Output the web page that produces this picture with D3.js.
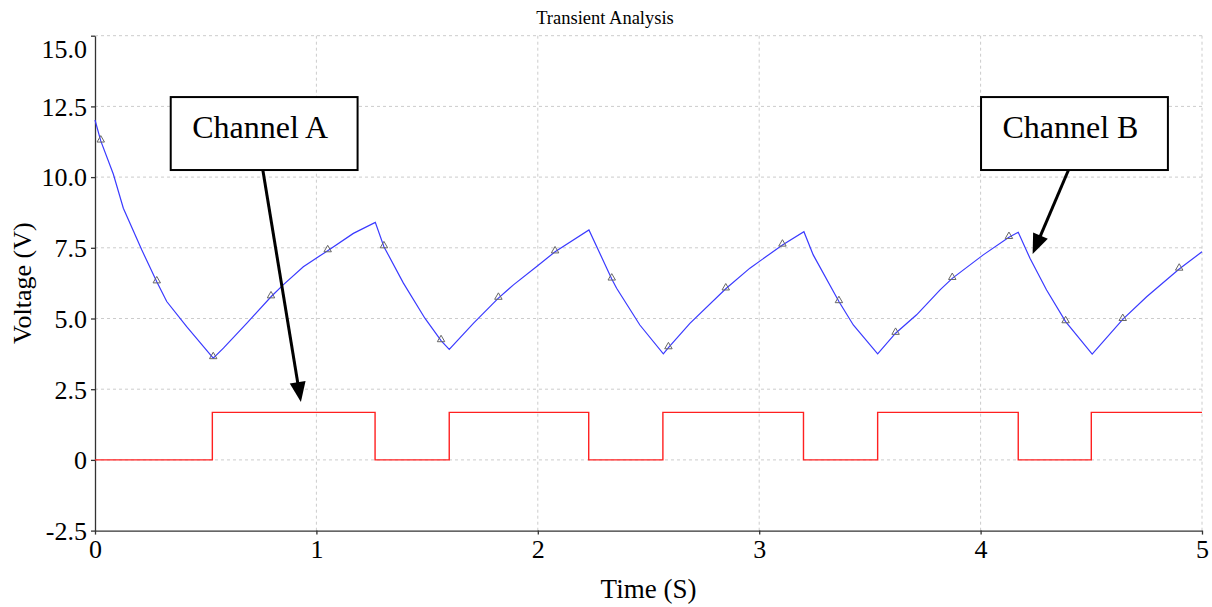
<!DOCTYPE html>
<html>
<head>
<meta charset="utf-8">
<script src="https://cdn.jsdelivr.net/npm/d3@7"></script>
<style>
  body { margin: 0; background: #fff; }
  svg { display: block; }
  text { font-family: "Liberation Serif", "Times New Roman", serif; fill: #000; }
  .grid line { stroke: #cccccc; stroke-dasharray: 3,3; }
  .axis path, .axis line { stroke: #333; stroke-width: 1.3; }
</style>
</head>
<body>
<svg id="canvas" width="1212" height="607"></svg>
<script>

const width = 1212;
const height = 607;
const margin = {top: 35.7, right: 10, bottom: 76.4, left: 95}; // px

// tick labels
const xTicks = [0, 1, 2, 3, 4, 5];
const yTicks = [-2.5, 0, 2.5, 5, 7.5, 10, 12.5, 15];

// Channel B (blue): polyline vertices
const blueT = [0, 0.026, 0.083, 0.128, 0.211, 0.279, 0.324, 0.414, 0.534, 0.580,
               0.685, 0.795, 0.850, 0.941, 1.051, 1.167, 1.266, 1.305, 1.393, 1.490,
               1.563, 1.600, 1.709, 1.822, 1.890, 1.995, 2.078, 2.231, 2.334, 2.356,
               2.461, 2.567, 2.590, 2.687, 2.849, 2.958, 3.105, 3.202, 3.244, 3.360,
               3.425, 3.535, 3.616, 3.711, 3.817, 3.872, 4.012, 4.128, 4.170, 4.223,
               4.298, 4.384, 4.504, 4.642, 4.750, 4.897, 5.0];
const blueV = [12.02, 11.28, 10.10, 8.90, 7.43, 6.30, 5.60, 4.71, 3.60, 3.95,
               4.83, 5.77, 6.19, 6.83, 7.40, 8.01, 8.40, 7.54, 6.25, 5.01,
               4.22, 3.91, 4.83, 5.72, 6.19, 6.84, 7.36, 8.13, 6.40, 6.07,
               4.77, 3.75, 3.97, 4.83, 6.05, 6.78, 7.60, 8.07, 7.25, 5.60,
               4.77, 3.75, 4.48, 5.13, 6.01, 6.42, 7.25, 7.87, 8.05, 7.13,
               6.01, 4.89, 3.74, 4.97, 5.77, 6.75, 7.36];

// sample markers (triangles) on Channel B
const markerT = [0.026, 0.279, 0.534, 0.795, 1.051, 1.305, 1.563, 1.822, 2.078, 2.334,
                 2.590, 2.849, 3.105, 3.360, 3.616, 3.872, 4.128, 4.384, 4.642, 4.897];
const markerV = [11.28, 6.30, 3.62, 5.77, 7.40, 7.54, 4.22, 5.72, 7.36, 6.40,
                 3.97, 6.05, 7.60, 5.60, 4.48, 6.42, 7.87, 4.89, 4.97, 6.75];

// Channel A (red): square wave, level holds until next time
const redT = [0, 0.53, 1.265, 1.60, 2.23, 2.565, 3.20, 3.535, 4.17, 4.50, 5.0];
const redV = [0, 1.68, 0, 1.68, 0, 1.68, 0, 1.68, 0, 1.68, 1.68];

// callouts, in chart units
const callouts = [
    {label: "Channel A", x0: 0.342, x1: 1.186, y0: 12.83, y1: 10.25,
     from: [0.758, 10.25], to: [0.93, 2.05]},
    {label: "Channel B", x0: 4.002, x1: 4.846, y0: 12.83, y1: 10.25,
     from: [4.397, 10.25], to: [4.235, 7.28]}
];

const svg = d3.select("#canvas");

const x = d3.scaleLinear()
    .domain([0, 5])
    .range([margin.left, width - margin.right]);

const y = d3.scaleLinear()
    .domain([-2.5, 15])
    .range([height - margin.bottom, margin.top]);

// grid
svg.append("g")
    .attr("class", "grid")
    .selectAll("line.v")
    .data(xTicks.filter(d => d > 0))
    .join("line")
    .attr("x1", d => x(d)).attr("x2", d => x(d))
    .attr("y1", y(15)).attr("y2", y(-2.5));

svg.select(".grid")
    .selectAll("line.h")
    .data(yTicks.filter(d => d > -2.5))
    .join("line")
    .attr("class", "h")
    .attr("x1", x(0)).attr("x2", x(5))
    .attr("y1", d => y(d)).attr("y2", d => y(d));

// axes
const yAxis = svg.append("g")
    .attr("class", "axis")
    .attr("transform", "translate(" + x(0) + ",0)")
    .call(d3.axisLeft(y)
          .tickValues(yTicks)
          .tickSize(4)
          .tickSizeOuter(0)
          .tickFormat(d => d === 0 ? "0" : d.toFixed(1)));

yAxis.selectAll("text")
    .style("font-size", "26px")
    .attr("x", -8)
    .attr("dy", d => d === 15 ? "0.82em" : "0.34em");

const xAxis = svg.append("g")
    .attr("class", "axis")
    .attr("transform", "translate(0," + y(-2.5) + ")")
    .call(d3.axisBottom(x)
          .tickValues(xTicks)
          .tickSize(4)
          .tickSizeOuter(0)
          .tickFormat(d3.format("d")));

xAxis.selectAll("text")
    .style("font-size", "26px")
    .attr("y", 8)
    .attr("dy", "0.75em");

svg.selectAll(".axis .domain").attr("stroke", "#333");

// series
const blueLine = d3.line()
    .x(i => x(blueT[i]))
    .y(i => y(blueV[i]));

svg.append("path")
    .attr("d", blueLine(d3.range(blueT.length)))
    .attr("fill", "none")
    .attr("stroke", "#3a3aff")
    .attr("stroke-width", 1.2);

const redLine = d3.line()
    .curve(d3.curveStepAfter)
    .x(i => x(redT[i]))
    .y(i => y(redV[i]));

svg.append("path")
    .attr("d", redLine(d3.range(redT.length)))
    .attr("fill", "none")
    .attr("stroke", "#ff2020")
    .attr("stroke-width", 1.4);

const tri = d3.symbol().type(d3.symbolTriangle).size(24);

svg.append("g")
    .selectAll("path")
    .data(d3.range(markerT.length))
    .join("path")
    .attr("transform", i => "translate(" + x(markerT[i]) + "," + (y(markerV[i]) - 1) + ")")
    .attr("d", tri)
    .attr("fill", "none")
    .attr("stroke", "#666")
    .attr("stroke-width", 1);

// title and axis labels
svg.append("text")
    .attr("x", 605)
    .attr("y", 24)
    .attr("text-anchor", "middle")
    .style("font-size", "18.5px")
    .text("Transient Analysis");

svg.append("text")
    .attr("x", (x(0) + x(5)) / 2)
    .attr("y", 598)
    .attr("text-anchor", "middle")
    .style("font-size", "27px")
    .text("Time (S)");

svg.append("text")
    .attr("transform", "translate(31," + ((y(15) + y(-2.5)) / 2) + ") rotate(-90)")
    .attr("text-anchor", "middle")
    .style("font-size", "26px")
    .text("Voltage (V)");

// callouts
const ann = svg.append("g").selectAll("g")
    .data(callouts)
    .join("g");

ann.append("line")
    .attr("x1", d => x(d.from[0]))
    .attr("y1", d => y(d.from[1]))
    .attr("x2", d => arrowBase(d)[0])
    .attr("y2", d => arrowBase(d)[1])
    .attr("stroke", "#000")
    .attr("stroke-width", 3);

ann.append("polygon")
    .attr("points", d => arrowHead(d))
    .attr("fill", "#000");

ann.append("rect")
    .attr("x", d => x(d.x0))
    .attr("y", d => y(d.y0))
    .attr("width", d => x(d.x1) - x(d.x0))
    .attr("height", d => y(d.y1) - y(d.y0))
    .attr("fill", "#fff")
    .attr("stroke", "#000")
    .attr("stroke-width", 2);

ann.append("text")
    .attr("x", d => (x(d.x0) + x(d.x1)) / 2 - 4)
    .attr("y", d => y(d.y0) + 41)
    .attr("text-anchor", "middle")
    .style("font-size", "32px")
    .text(d => d.label);

function arrowGeom(d) {
    const x1 = x(d.from[0]), y1 = y(d.from[1]);
    const x2 = x(d.to[0]), y2 = y(d.to[1]);
    const len = Math.hypot(x2 - x1, y2 - y1);
    return {x2: x2, y2: y2, ux: (x2 - x1) / len, uy: (y2 - y1) / len};
}

function arrowBase(d) {
    const g = arrowGeom(d);
    return [g.x2 - g.ux * 16, g.y2 - g.uy * 16];
}

function arrowHead(d) {
    const g = arrowGeom(d);
    const headLen = 20, headW = 8;
    const bx = g.x2 - g.ux * headLen, by = g.y2 - g.uy * headLen;
    const px = -g.uy, py = g.ux;
    return [g.x2 + "," + g.y2,
            (bx + px * headW) + "," + (by + py * headW),
            (bx - px * headW) + "," + (by - py * headW)].join(" ");
}

</script>
</body>
</html>
